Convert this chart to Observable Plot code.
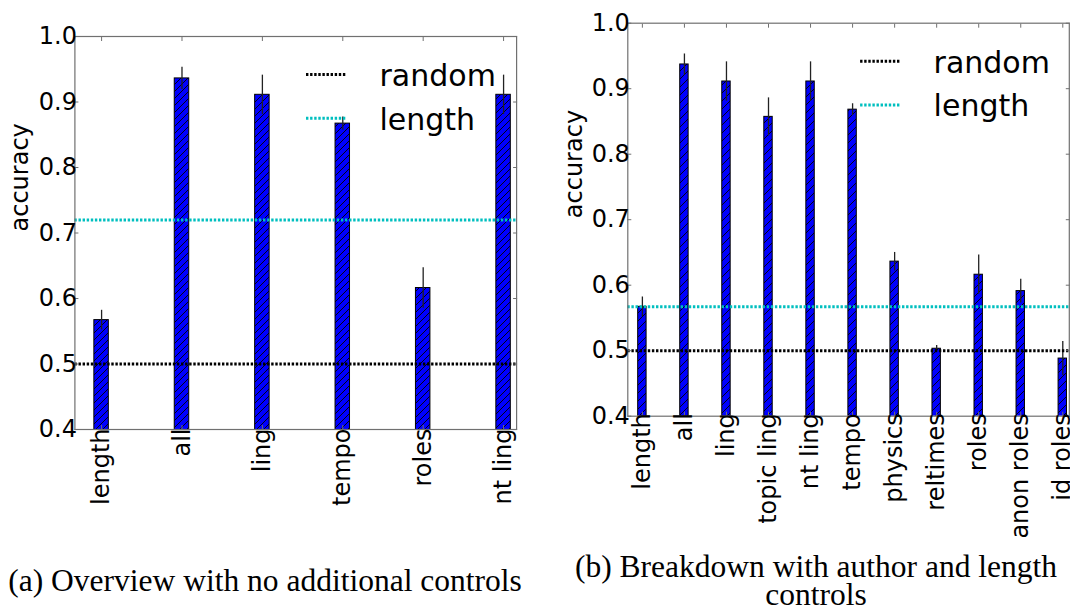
<!DOCTYPE html>
<html><head><meta charset="utf-8">
<script src="https://cdn.jsdelivr.net/npm/d3@7"></script>
<script src="https://cdn.jsdelivr.net/npm/@observablehq/plot@0.6"></script>
<style>
html,body{margin:0;padding:0;background:#fff;}
#root{position:relative;width:1070px;height:611px;overflow:hidden;background:#fff;}
.panel{position:absolute;top:0;}
.cap{position:absolute;font-family:"Liberation Serif","Times New Roman",serif;font-size:31.5px;color:#000;text-align:center;white-space:nowrap;}
</style></head><body><div id="root"></div>
<script>
// ---- Panel (a): Overview with no additional controls ----
const catsA = ["length", "all", "ling", "tempo", "roles", "nt ling"];
const accA  = [0.567, 0.936, 0.911, 0.867, 0.616, 0.911];
const errA  = [0.015, 0.017, 0.030, 0.010, 0.031, 0.030];
const randomA = 0.5;
const lengthA = 0.72;

// ---- Panel (b): Breakdown with author and length controls ----
const catsB = ["length", "all", "ling", "topic ling", "nt ling", "tempo", "physics", "reltimes", "roles", "anon roles", "id roles"];
const accB  = [0.567, 0.937, 0.911, 0.857, 0.911, 0.868, 0.636, 0.503, 0.616, 0.591, 0.488];
const errB  = [0.015, 0.016, 0.030, 0.029, 0.030, 0.009, 0.014, 0.005, 0.030, 0.018, 0.026];
const randomB = 0.5;
const lengthB = 0.567;

const yTicks = [0.4, 0.5, 0.6, 0.7, 0.8, 0.9, 1.0];
const legendLabels = ["random", "length"];
const captionA = "(a) Overview with no additional controls";
const captionB = ["(b) Breakdown with author and length", "controls"];

const GRAY = "#707070";
const BLUE = "#0000ff";
const CYAN = "#00bfbf";
const DASH = "2.4,1.7";
const FONT = "'DejaVu Sans', 'Bitstream Vera Sans', sans-serif";

function addHatch(svg, id, step) {
  const defs = d3.select(svg).insert("defs", ":first-child");
  const p = defs.append("pattern").attr("id", id)
    .attr("patternUnits", "userSpaceOnUse")
    .attr("width", step).attr("height", step);
  p.append("rect").attr("width", step).attr("height", step).attr("fill", BLUE);
  p.append("path")
    .attr("d", `M${-step/4},${step/4} L${step/4},${-step/4} M0,${step} L${step},0 M${step*0.75},${step*1.25} L${step*1.25},${step*0.75}`)
    .attr("stroke", "#000").attr("stroke-width", 0.9);
}

function legendMark(legendDx) {
  return (index, scales, values, dims) => {
    const g = d3.create("svg:g");
    const x0 = dims.marginLeft + legendDx;
    const colors = ["#000", CYAN];
    legendLabels.forEach((lab, k) => {
      const y = dims.marginTop + 38.5 + k * 43.8;
      g.append("line").attr("x1", x0).attr("x2", x0 + 41).attr("y1", y).attr("y2", y)
        .attr("stroke", colors[k]).attr("stroke-width", 3).attr("stroke-dasharray", DASH);
      g.append("text").attr("x", x0 + 73.5).attr("y", y + 11.3)
        .attr("text-anchor", "start")
        .attr("font-size", 30).attr("font-family", FONT).attr("fill", "#000").text(lab);
    });
    return g.node();
  };
}

function panel({cats, acc, err, randomV, lengthV, id, width, height, margins, xDomain, barW, hatchStep, xLabelPad, ylabDx, legendDx}) {
  const rows = cats.map((c, i) => ({i, cat: c, acc: acc[i], err: err[i]}));
  const idx = d3.range(cats.length);
  const svg = Plot.plot({
    width, height, ...margins,
    style: {fontFamily: FONT, fontSize: "24px", color: "#000", background: "#fff", overflow: "visible"},
    x: {type: "linear", domain: xDomain, axis: null},
    y: {domain: [0.4, 1.0], axis: null},
    marks: [
      Plot.rectY(rows, {x1: d => d.i - barW / 2, x2: d => d.i + barW / 2, y1: 0, y2: "acc",
        fill: `url(#${id})`, stroke: "#000", strokeWidth: 1, clip: true}),
      Plot.ruleX(rows, {x: "i", y1: d => d.acc - d.err, y2: d => d.acc + d.err, stroke: "#222", strokeWidth: 1.3}),
      Plot.ruleY([randomV], {stroke: "#000", strokeWidth: 3, strokeDasharray: DASH}),
      Plot.ruleY([lengthV], {stroke: CYAN, strokeWidth: 3, strokeDasharray: DASH}),
      Plot.frame({stroke: GRAY, strokeWidth: 1.2}),
      Plot.axisY(yTicks, {anchor: "left", tickSize: 4, insetLeft: 4, fill: "none", stroke: GRAY}),
      Plot.axisY(yTicks, {anchor: "right", tickSize: 4, insetRight: 4, fill: "none", stroke: GRAY}),
      Plot.axisX(idx, {anchor: "top", tickSize: 4, insetTop: 4, fill: "none", stroke: GRAY}),
      Plot.axisX(idx, {anchor: "bottom", tickSize: 4, insetBottom: 4, fill: "none", stroke: GRAY}),
      Plot.axisY(yTicks, {anchor: "left", tickSize: 0, tickPadding: -2, tickFormat: d3.format(".1f"), fontSize: 24, label: null}),
      Plot.axisX(idx, {anchor: "bottom", tickSize: 0, tickPadding: xLabelPad, tickRotate: -90, tickFormat: i => cats[i], fontSize: 24, label: null}),
      Plot.text(["accuracy"], {frameAnchor: "left", rotate: -90, lineAnchor: "top", dx: ylabDx, dy: -1.5, fontSize: 24}),
      legendMark(legendDx)
    ]
  });
  addHatch(svg, id, hatchStep);
  return svg;
}

const root = document.getElementById("root");

const svgA = panel({
  cats: catsA, acc: accA, err: errA, randomV: randomA, lengthV: lengthA, id: "hatchA",
  width: 535, height: 545,
  margins: {marginLeft: 74.4, marginRight: 18.9, marginTop: 36, marginBottom: 116},
  xDomain: [-0.332, 5.162], barW: 0.18, hatchStep: 7, xLabelPad: -1, ylabDx: -64.2, legendDx: 231.6
});
svgA.classList.add("panel"); svgA.style.left = "0px"; svgA.style.position = "absolute";
root.appendChild(svgA);

const svgB = panel({
  cats: catsB, acc: accB, err: errB, randomV: randomB, lengthV: lengthB, id: "hatchB",
  width: 535, height: 545,
  margins: {marginLeft: 92.3, marginRight: 1.2, marginTop: 22.7, marginBottom: 129.3},
  xDomain: [-0.347, 10.155], barW: 0.2, hatchStep: 8, xLabelPad: -3, ylabDx: -62.7, legendDx: 232.8
});
svgB.classList.add("panel"); svgB.style.left = "535px"; svgB.style.position = "absolute";
root.appendChild(svgB);

const capA = document.createElement("div");
capA.className = "cap";
capA.style.cssText += "left:0px;width:530px;top:563.5px;line-height:34px;";
capA.textContent = captionA;
root.appendChild(capA);

const capB = document.createElement("div");
capB.className = "cap";
capB.style.cssText += "left:560px;width:512px;top:552.9px;line-height:28px;";
capB.innerHTML = captionB.map(s => `<div>${s}</div>`).join("");
root.appendChild(capB);
</script></body></html>
